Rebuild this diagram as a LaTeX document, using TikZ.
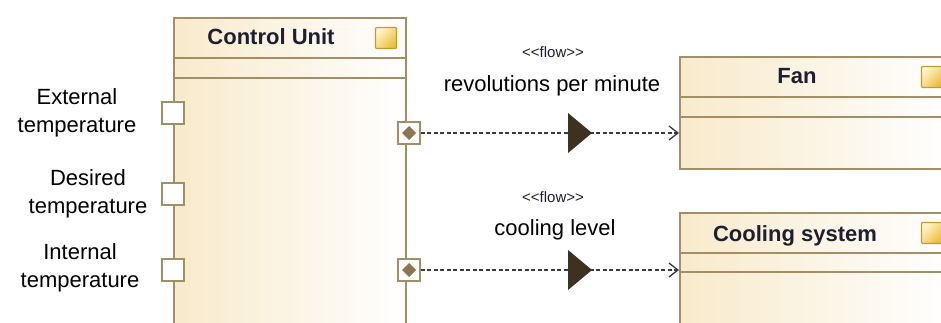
\documentclass[tikz,border=0pt]{standalone}
\usepackage{fontspec}
\setmainfont{Liberation Sans}
\usetikzlibrary{positioning,arrows.meta,calc}

\definecolor{umlborder}{HTML}{A38F66}
\definecolor{umlfill}{HTML}{F8EACB}
\definecolor{umlicon}{HTML}{EDBE3C}
\definecolor{umliconlight}{HTML}{FFF6C8}
\definecolor{umliconborder}{HTML}{C49A2C}
\definecolor{umlport}{HTML}{8C7550}
\definecolor{flowline}{HTML}{3A3A3A}
\definecolor{flowhead}{HTML}{3D3222}
\definecolor{umltext}{HTML}{1E1E30}

\tikzset{
  block/.style={draw=umlborder, line width=1.6pt, left color=umlfill, right color=white, anchor=north west, inner sep=0pt},
  blocktitle/.style={font=\fontsize{22}{26}\selectfont\bfseries, text=umltext, anchor=base},
  iconbox/.style={draw=umliconborder, line width=1.2pt, top color=umliconlight, bottom color=umlicon, shading angle=45, minimum size=21pt, inner sep=0pt, rounded corners=1pt},
  compline/.style={draw=umlborder, line width=1.6pt},
  inport/.style={draw=umlborder, fill=white, line width=1.6pt, minimum size=22pt, inner sep=0pt},
  outport/.style={inport, path picture={
      \fill[umlport] (path picture bounding box.center) +(0,7pt) -- +(7pt,0) -- +(0,-7pt) -- +(-7pt,0) -- cycle;}},
  portlabel/.style={font=\fontsize{22}{28}\selectfont, align=center},
  flowname/.style={font=\fontsize{22}{26}\selectfont, anchor=base},
  stereo/.style={font=\fontsize{15}{18}\selectfont, text=umltext, anchor=base},
  flow/.style={draw=flowline, line width=1.3pt, dash pattern=on 4pt off 2.5pt, -{Straight Barb[length=9pt,width=14pt]}},
}

\begin{document}
\begin{tikzpicture}[x=1pt,y=-1pt]
    \useasboundingbox (0,0) rectangle (941,323);
    \clip (0,0) rectangle (941,323);

    % control unit
    \node[block, minimum width=232pt, minimum height=320pt] (cu) at (173,17) {};
    \node[blocktitle] (cutitle) at (271,45) {Control Unit};
    \node[iconbox] (cuicon) at (386,38) {};
    \draw[compline] ([yshift=-41pt]cu.north west) -- ([yshift=-41pt]cu.north east);
    \draw[compline] ([yshift=-61pt]cu.north west) -- ([yshift=-61pt]cu.north east);

    % fan
    \node[block, minimum width=272pt, minimum height=112pt] (fan) at (679,56) {};
    \node[blocktitle] (fantitle) at (797,84) {Fan};
    \node[iconbox] (fanicon) at (932,77) {};
    \draw[compline] ([yshift=-41pt]fan.north west) -- ([yshift=-41pt]fan.north east);
    \draw[compline] ([yshift=-61pt]fan.north west) -- ([yshift=-61pt]fan.north east);

    % cooling system
    \node[block, minimum width=272pt, minimum height=130pt] (cool) at (679,212) {};
    \node[blocktitle] (cooltitle) at (795,241) {Cooling system};
    \node[iconbox] (coolicon) at (932,233) {};
    \draw[compline] ([yshift=-41pt]cool.north west) -- ([yshift=-41pt]cool.north east);
    \draw[compline] ([yshift=-60pt]cool.north west) -- ([yshift=-60pt]cool.north east);

    % ports
    \node[inport] (extin) at (173,113) {};
    \node[inport] (desin) at (173,194) {};
    \node[inport] (intin) at (173,270) {};
    \node[outport] (rpmout) at (409,133) {};
    \node[outport] (levout) at (409,270) {};

    \node[portlabel] (extlabel) at (77,113) {External\\temperature};
    \node[portlabel] (deslabel) at (88,194) {Desired\\temperature};
    \node[portlabel] (intlabel) at (80,268) {Internal\\temperature};

    % flows
    \draw[flow] (rpmout.east) -- (rpmout -| fan.west);
    \draw[flow] (levout.east) -- (levout -| cool.west);

    \coordinate (rpmmid) at (580,133);
    \coordinate (levmid) at (580,270);
    \fill[flowhead] ([shift={(-12,-20)}]rpmmid) -- ([shift={(12,0)}]rpmmid) -- ([shift={(-12,20)}]rpmmid) -- cycle;
    \fill[flowhead] ([shift={(-12,-20)}]levmid) -- ([shift={(12,0)}]levmid) -- ([shift={(-12,20)}]levmid) -- cycle;

    \node[stereo] (rpmstereo) at (553,58) {<{}<flow>{}>};
    \node[flowname] (rpmname) at (552,92) {revolutions per minute};
    \node[stereo] (levstereo) at (553,202) {<{}<flow>{}>};
    \node[flowname] (levname) at (555,235) {cooling level};

\end{tikzpicture}
\end{document}
